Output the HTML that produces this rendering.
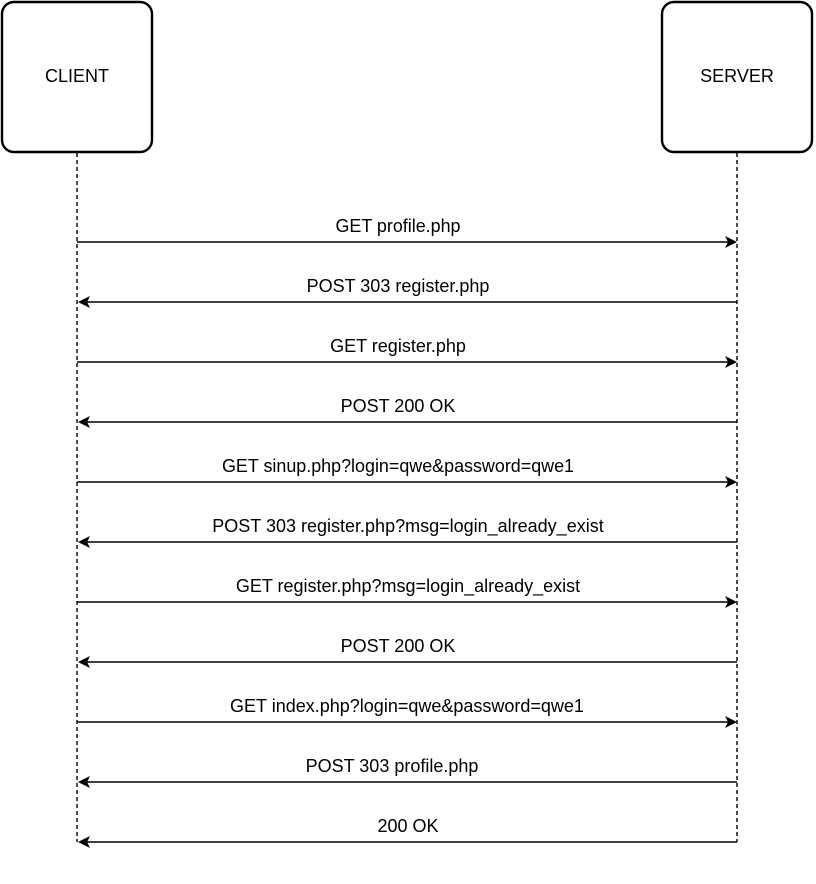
<!DOCTYPE html>
<html><head><meta charset="utf-8"><style>
html,body{margin:0;padding:0;background:#fff;width:816px;height:884px;overflow:hidden}
</style></head><body>
<svg width="816" height="884" viewBox="0 0 816 884" xmlns="http://www.w3.org/2000/svg" font-family="Liberation Sans, Arial, sans-serif" font-size="18">
<rect x="2" y="2" width="150" height="150" rx="12" ry="12" fill="#fff" stroke="#000" stroke-width="2.4"/>
<rect x="662" y="2" width="150" height="150" rx="12" ry="12" fill="#fff" stroke="#000" stroke-width="2.4"/>
<text x="77" y="82" text-anchor="middle">CLIENT</text>
<text x="737" y="82" text-anchor="middle">SERVER</text>
<line x1="77" y1="153" x2="77" y2="842" stroke="#000" stroke-width="1.4" stroke-dasharray="4,3"/>
<line x1="737" y1="153" x2="737" y2="842" stroke="#000" stroke-width="1.4" stroke-dasharray="4,3"/>
<g stroke="#000" stroke-width="1.5">
<line x1="77" y1="242" x2="728" y2="242"/>
<line x1="737" y1="302" x2="86" y2="302"/>
<line x1="77" y1="362" x2="728" y2="362"/>
<line x1="737" y1="422" x2="86" y2="422"/>
<line x1="77" y1="482" x2="728" y2="482"/>
<line x1="737" y1="542" x2="86" y2="542"/>
<line x1="77" y1="602" x2="728" y2="602"/>
<line x1="737" y1="662" x2="86" y2="662"/>
<line x1="77" y1="722" x2="728" y2="722"/>
<line x1="737" y1="782" x2="86" y2="782"/>
<line x1="737" y1="842" x2="86" y2="842"/>
</g>
<g fill="#000">
<path d="M737,242 l-12,-6 l3,6 l-3,6 z"/>
<path d="M78,302 l12,-6 l-3,6 l3,6 z"/>
<path d="M737,362 l-12,-6 l3,6 l-3,6 z"/>
<path d="M78,422 l12,-6 l-3,6 l3,6 z"/>
<path d="M737,482 l-12,-6 l3,6 l-3,6 z"/>
<path d="M78,542 l12,-6 l-3,6 l3,6 z"/>
<path d="M737,602 l-12,-6 l3,6 l-3,6 z"/>
<path d="M78,662 l12,-6 l-3,6 l3,6 z"/>
<path d="M737,722 l-12,-6 l3,6 l-3,6 z"/>
<path d="M78,782 l12,-6 l-3,6 l3,6 z"/>
<path d="M78,842 l12,-6 l-3,6 l3,6 z"/>
</g>
<g text-anchor="middle">
<text x="398" y="232" textLength="125" lengthAdjust="spacingAndGlyphs">GET profile.php</text>
<text x="398" y="292">POST 303 register.php</text>
<text x="398" y="352">GET register.php</text>
<text x="398" y="412">POST 200 OK</text>
<text x="398" y="472" textLength="352" lengthAdjust="spacingAndGlyphs">GET sinup.php?login=qwe&amp;password=qwe1</text>
<text x="408" y="532">POST 303 register.php?msg=login_already_exist</text>
<text x="408" y="592">GET register.php?msg=login_already_exist</text>
<text x="398" y="652">POST 200 OK</text>
<text x="407" y="712">GET index.php?login=qwe&amp;password=qwe1</text>
<text x="392" y="772">POST 303 profile.php</text>
<text x="408" y="832">200 OK</text>
</g>
</svg>
</body></html>
